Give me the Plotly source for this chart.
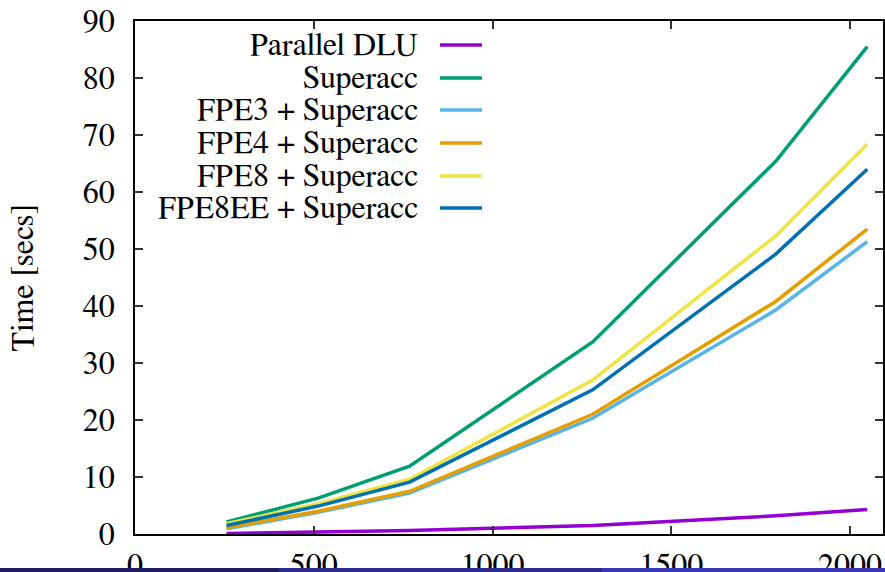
import plotly.graph_objects as go

# Matrix sizes and timings (seconds)
sizes = [256, 512, 768, 1280, 1792, 2048]

series_names = [
    "Parallel DLU",
    "Superacc",
    "FPE3 + Superacc",
    "FPE4 + Superacc",
    "FPE8 + Superacc",
    "FPE8EE + Superacc",
]
parallel_dlu = [0.1, 0.3, 0.6, 1.5, 3.2, 4.3]
superacc = [2.1, 6.3, 11.9, 33.7, 65.4, 85.5]
fpe3_superacc = [0.9, 3.8, 7.2, 20.3, 39.3, 51.3]
fpe4_superacc = [1.1, 4.0, 7.5, 21.0, 40.8, 53.5]
fpe8_superacc = [1.8, 5.3, 9.6, 27.0, 52.3, 68.4]
fpe8ee_superacc = [1.5, 4.9, 9.1, 25.3, 49.1, 64.0]

x_ticks = [0, 500, 1000, 1500, 2000]
y_ticks = [0, 10, 20, 30, 40, 50, 60, 70, 80, 90]

series_values = [parallel_dlu, superacc, fpe3_superacc,
                 fpe4_superacc, fpe8_superacc, fpe8ee_superacc]
colors = ["#9400d3", "#009e73", "#56b4e9", "#e69f00", "#f0e442", "#0072b2"]

W, H = 885, 572
ML, MR, MT, MB = 135, 2, 21, 38
PW, PH = W - ML - MR, H - MT - MB

FONT = "Nimbus Roman, FreeSerif, DejaVu Serif, serif"
FONT_SIZE = 32

fig = go.Figure()
for i in range(len(series_names)):
    fig.add_trace(go.Scatter(
        x=sizes, y=series_values[i], mode="lines", name=series_names[i],
        line=dict(color=colors[i], width=3.5), showlegend=False,
    ))


def px_to_paper_x(px):
    return (px - ML) / PW


def px_to_paper_y(py):
    return (H - MB - py) / PH


# key: right-aligned labels with a line sample to their right
key_rows = [45, 78, 110, 143, 176, 208]
annotations = []
shapes = []
for i, ypx in enumerate(key_rows):
    yp = px_to_paper_y(ypx)
    annotations.append(dict(
        x=px_to_paper_x(419), y=yp, xref="paper", yref="paper",
        text=series_names[i], showarrow=False, xanchor="right", yanchor="middle",
        borderpad=0,
        font=dict(family=FONT, size=FONT_SIZE, color="black"),
    ))
    shapes.append(dict(
        type="line", xref="paper", yref="paper",
        x0=px_to_paper_x(440), x1=px_to_paper_x(482), y0=yp, y1=yp,
        line=dict(color=colors[i], width=3.5),
    ))

# y-axis title
annotations.append(dict(
    x=px_to_paper_x(22), y=0.5, xref="paper", yref="paper",
    text="Time [secs]", showarrow=False, textangle=-90,
    xanchor="center", yanchor="middle", borderpad=0,
    font=dict(family=FONT, size=FONT_SIZE, color="black"),
))

# footer band along the bottom edge
band = [(0, 279, "#1e1e5c"), (279, 602, "#2b2b8e"), (602, 885, "#3636b8")]
for x0, x1, c in band:
    shapes.append(dict(
        type="rect", xref="paper", yref="paper", layer="above",
        x0=px_to_paper_x(x0), x1=px_to_paper_x(x1),
        y0=px_to_paper_y(572), y1=px_to_paper_y(568),
        fillcolor=c, line=dict(width=0),
    ))

axis_common = dict(
    showgrid=False, zeroline=False, showline=True, linecolor="black",
    linewidth=1.5, mirror="ticks", ticks="inside", ticklen=8, tickwidth=1.5,
    tickcolor="#333333", automargin=False, ticklabeloverflow="allow",
    tickfont=dict(family=FONT, size=FONT_SIZE, color="black"),
)

fig.update_layout(
    template="none",
    width=W, height=H,
    margin=dict(l=ML, r=MR, t=MT, b=MB),
    plot_bgcolor="white", paper_bgcolor="white",
    xaxis=dict(range=[0, 2092], tickvals=x_ticks, ticklabelstandoff=2,
               **axis_common),
    yaxis=dict(range=[0, 90], tickvals=y_ticks, ticklabelstandoff=12,
               **axis_common),
    annotations=annotations, shapes=shapes,
)

fig.write_html("out.html")
